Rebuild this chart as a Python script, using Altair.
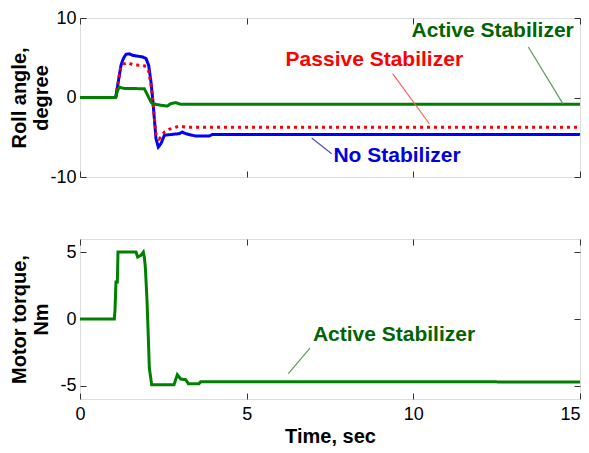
import altair as alt
import pandas as pd

# ---------------- data ----------------
# Roll angle (degree) vs time (sec)
t_no = [0, 1.07, 1.13, 1.18, 1.23, 1.30, 1.38, 1.48, 1.58, 1.88, 1.98, 2.06, 2.13, 2.18, 2.23,
        2.28, 2.35, 2.43, 2.53, 2.63, 2.97, 3.07, 3.17, 3.47, 3.87, 3.97, 15]
v_no = [0, 0, 1.5, 2.8, 4.05, 4.9, 5.43, 5.5, 5.3, 5.1, 4.9, 4.05, 1.95, -0.15, -2.66,
        -5.2, -6.23, -5.8, -4.75, -4.7, -4.55, -4.35, -4.55, -4.85, -4.85, -4.65, -4.65]

t_passive = [0, 1.07, 1.13, 1.18, 1.23, 1.30, 1.43, 1.60, 1.88, 1.98, 2.06, 2.13, 2.18, 2.23,
             2.28, 2.37, 2.45, 2.53, 2.67, 2.97, 3.27, 15]
v_passive = [0, 0, 1.5, 2.8, 3.9, 4.2, 4.38, 4.1, 4.05, 3.9, 3.3, 1.6, -0.2, -2.5,
             -4.6, -5.2, -4.9, -4.35, -4.0, -3.62, -3.75, -3.75]

t_active = [0, 1.07, 1.13, 1.18, 1.30, 1.93, 2.03, 2.13, 2.18, 2.43, 2.62, 2.72, 2.87, 3.02, 15]
v_active = [0, 0, 0.9, 1.3, 1.15, 1.1, 0.28, -0.57, -0.78, -0.98, -1.07, -0.78, -0.65, -0.85, -0.85]

# Motor torque (Nm) vs time (sec)
t_torque = [0, 1.03, 1.05, 1.08, 1.12, 1.14, 1.68, 1.73, 1.83, 1.90, 1.93, 1.96, 2.01, 2.05,
            2.08, 2.15, 2.82, 2.92, 3.02, 3.17, 3.25, 3.57, 3.62, 15]
v_torque = [0, 0, 0.67, 2.78, 2.78, 5.02, 5.02, 4.65, 4.78, 5.02, 4.65, 3.9, 1.42, -1.44,
            -3.68, -4.93, -4.93, -4.18, -4.5, -4.55, -4.85, -4.85, -4.7, -4.72]

# annotations (top panel)
ann_labels = ["Active Stabilizer", "Passive Stabilizer", "No Stabilizer"]
ann_x = [12.38, 8.83, 9.51]
ann_y = [8.36, 4.72, -7.36]
lead_x = [13.45, 9.38, 6.95]
lead_y = [6.35, 3.0, -5.1]
lead_x2 = [14.49, 10.48, 7.55]
lead_y2 = [-0.8, -3.3, -7.07]
ann_colors = ["#006400", "#ff0000", "#0000e0"]
lead_colors = ["#5a9a5a", "#ff6060", "#5050c8"]

# annotation (bottom panel)
ann2_label = ["Active Stabilizer"]
ann2_x = [9.42]
ann2_y = [-1.19]
lead2_x = [6.9]
lead2_y = [-2.19]
lead2_x2 = [6.25]
lead2_y2 = [-4.1]

x_ticks = [0, 5, 10, 15]
roll_ticks = [-10, 0, 10]
torque_ticks = [-5, 0, 5]
x_domain = [0, 15]
roll_domain = [-10, 10]
torque_domain = [-6, 6]

# ---------------- styling ----------------
W = 500
H1 = 159
H2 = 160
TICK_FONT = "Liberation Sans, Arial"
TITLE_FONT = "Liberation Sans, Arial"
ANN_FONT = "Liberation Sans, Arial"
FRAME = "#333333"


def series_df(t, v):
    return pd.DataFrame({"t": t, "v": v, "i": list(range(len(t)))})


def panel(lines, ydomain, yticks, ytitle, H, show_x, annotations):
    xs = alt.Scale(domain=x_domain, nice=False, zero=False)
    ys = alt.Scale(domain=ydomain, nice=False, zero=False)

    x_main = alt.Axis(
        orient="bottom", values=x_ticks, ticks=False, domain=False, grid=False,
        labels=show_x, labelFont=TICK_FONT, labelFontSize=18, labelColor="#000",
        labelPadding=6, labelFlush=False,
        labelAlign={"condition": {"test": "datum.value == 15", "value": "right"},
                    "value": "center"},
        title="Time, sec" if show_x else None,
        titleFont=TITLE_FONT, titleFontSize=20, titleFontWeight="bold", titleColor="#000",
        titlePadding=3,
    )
    y_main = alt.Axis(
        orient="left", values=yticks, ticks=False, domain=False, grid=False,
        labelFont=TICK_FONT, labelFontSize=18, labelColor="#000", labelPadding=4,
        labelExpr="'' + datum.value",
        title=ytitle, titleFont=TITLE_FONT, titleFontSize=20, titleFontWeight="bold",
        titleColor="#000", titleLineHeight=22, titleX=-51, titleBaseline="bottom",
        titleAngle=270, titleAlign="center",
    )

    layers = []
    first = True
    for (t, v, color, dash) in lines:
        df = series_df(t, v)
        mk = alt.Chart(df).mark_line(color=color, strokeWidth=3, strokeDash=dash,
                                     interpolate="linear", clip=True)
        enc = dict(
            x=alt.X("t:Q", scale=xs, axis=x_main if first else None),
            y=alt.Y("v:Q", scale=ys, axis=y_main if first else None),
            order=alt.Order("i:Q"),
        )
        layers.append(mk.encode(**enc))
        first = False

    # inward tick marks on all four sides (MATLAB-style box)
    dummy = pd.DataFrame({"t": x_domain, "v": ydomain})

    def tick_axis(orient, values, offset):
        return alt.Axis(orient=orient, values=values, offset=offset, labels=False,
                        domain=False, grid=False, title=None, ticks=True,
                        tickSize=6, tickColor=FRAME, tickWidth=1)

    layers.append(alt.Chart(dummy).mark_point(opacity=0, size=0).encode(
        x=alt.X("t:Q", scale=xs, axis=tick_axis("top", x_ticks, -H)),
        y=alt.Y("v:Q", scale=ys, axis=tick_axis("right", yticks, -W)),
    ))
    layers.append(alt.Chart(dummy).mark_point(opacity=0, size=0).encode(
        x=alt.X("t:Q", scale=xs, axis=tick_axis("bottom", x_ticks, -H)),
        y=alt.Y("v:Q", scale=ys, axis=tick_axis("left", yticks, -W)),
    ))

    # annotations
    a = annotations
    lead_df = pd.DataFrame({"x": a["lx"], "y": a["ly"], "x2": a["lx2"], "y2": a["ly2"],
                            "c": a["lc"]})
    layers.append(alt.Chart(lead_df).mark_rule(strokeWidth=1.2).encode(
        x=alt.X("x:Q", scale=xs, axis=None), y=alt.Y("y:Q", scale=ys, axis=None),
        x2="x2:Q", y2="y2:Q", color=alt.Color("c:N", scale=None),
    ))
    txt_df = pd.DataFrame({"x": a["x"], "y": a["y"], "label": a["labels"], "c": a["c"]})
    layers.append(alt.Chart(txt_df).mark_text(
        font=ANN_FONT, fontSize=21, fontWeight="bold", align="center", baseline="middle"
    ).encode(
        x=alt.X("x:Q", scale=xs, axis=None), y=alt.Y("y:Q", scale=ys, axis=None),
        text="label:N", color=alt.Color("c:N", scale=None),
    ))

    return alt.layer(*layers).resolve_axis(x="independent", y="independent").properties(
        width=W, height=H
    )


top = panel(
    lines=[
        (t_no, v_no, "#0000ff", [1, 0]),
        (t_passive, v_passive, "#ff0000", [3, 4]),
        (t_active, v_active, "#008000", [1, 0]),
    ],
    ydomain=roll_domain, yticks=roll_ticks, ytitle=["Roll angle,", "degree"], H=H1,
    show_x=False,
    annotations=dict(labels=ann_labels, x=ann_x, y=ann_y, c=ann_colors,
                     lx=lead_x, ly=lead_y, lx2=lead_x2, ly2=lead_y2, lc=lead_colors),
)

bottom = panel(
    lines=[(t_torque, v_torque, "#008000", [1, 0])],
    ydomain=torque_domain, yticks=torque_ticks, ytitle=["Motor torque,", "Nm"], H=H2,
    show_x=True,
    annotations=dict(labels=ann2_label, x=ann2_x, y=ann2_y, c=[ann_colors[0]],
                     lx=lead2_x, ly=lead2_y, lx2=lead2_x2, ly2=lead2_y2, lc=[lead_colors[0]]),
)

chart = alt.vconcat(top, bottom, spacing=51).properties(
    padding={"left": 0, "top": 0, "right": 0, "bottom": 0}
).configure_view(
    stroke=FRAME, strokeWidth=1.5
).configure(background="white")

chart.save("out.html", embed_options={"renderer": "svg", "actions": False})
